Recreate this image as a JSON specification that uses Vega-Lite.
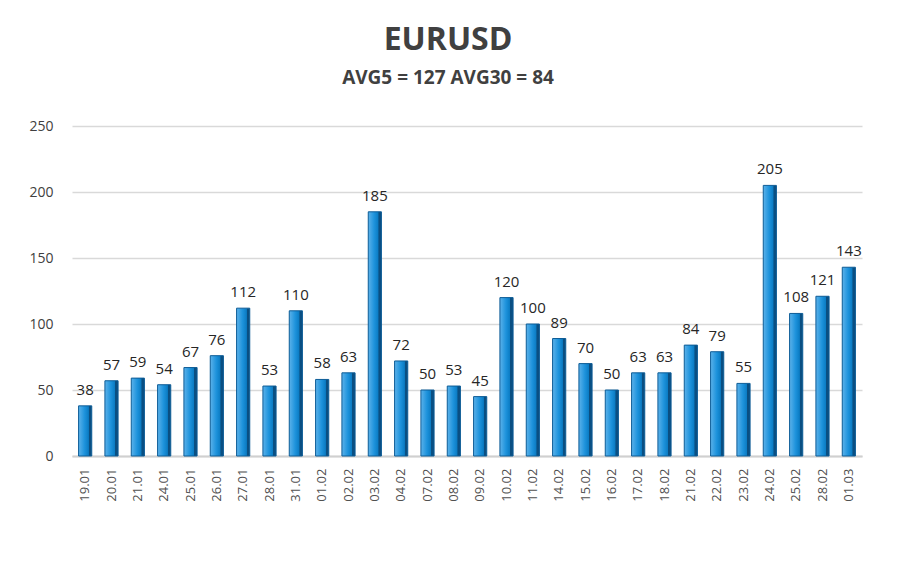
{
  "$schema": "https://vega.github.io/schema/vega-lite/v6.json",
  "autosize": "none",
  "width": 790,
  "height": 330,
  "padding": {"left": 72, "top": 126, "right": 38, "bottom": 114},
  "background": "white",
  "title": {
    "text": "EURUSD",
    "subtitle": "AVG5 = 127 AVG30 = 84",
    "anchor": "middle",
    "dx": -19,
    "font": "Open Sans",
    "fontSize": 32,
    "fontWeight": "bold",
    "color": "#404040",
    "subtitleFont": "Open Sans",
    "subtitleFontSize": 19,
    "subtitleFontWeight": "bold",
    "subtitleColor": "#404040",
    "subtitlePadding": 12,
    "offset": 30
  },
  "config": {
    "view": {"stroke": null},
    "font": "Open Sans"
  },
  "data": {
    "values": [
      {"date": "19.01", "pips": 38},
      {"date": "20.01", "pips": 57},
      {"date": "21.01", "pips": 59},
      {"date": "24.01", "pips": 54},
      {"date": "25.01", "pips": 67},
      {"date": "26.01", "pips": 76},
      {"date": "27.01", "pips": 112},
      {"date": "28.01", "pips": 53},
      {"date": "31.01", "pips": 110},
      {"date": "01.02", "pips": 58},
      {"date": "02.02", "pips": 63},
      {"date": "03.02", "pips": 185},
      {"date": "04.02", "pips": 72},
      {"date": "07.02", "pips": 50},
      {"date": "08.02", "pips": 53},
      {"date": "09.02", "pips": 45},
      {"date": "10.02", "pips": 120},
      {"date": "11.02", "pips": 100},
      {"date": "14.02", "pips": 89},
      {"date": "15.02", "pips": 70},
      {"date": "16.02", "pips": 50},
      {"date": "17.02", "pips": 63},
      {"date": "18.02", "pips": 63},
      {"date": "21.02", "pips": 84},
      {"date": "22.02", "pips": 79},
      {"date": "23.02", "pips": 55},
      {"date": "24.02", "pips": 205},
      {"date": "25.02", "pips": 108},
      {"date": "28.02", "pips": 121},
      {"date": "01.03", "pips": 143}
    ]
  },
  "encoding": {
    "x": {
      "field": "date",
      "type": "ordinal",
      "sort": null,
      "scale": {"paddingInner": 0.5, "paddingOuter": 0.25},
      "axis": {
        "title": null,
        "labelAngle": -90,
        "labelAlign": "right",
        "labelBaseline": "middle",
        "labelPadding": 12,
        "labelFontSize": 13,
        "labelColor": "#505050",
        "labelFont": "Open Sans",
        "ticks": false,
        "domain": true,
        "domainColor": "#d0d0d0",
        "domainWidth": 2
      }
    },
    "y": {
      "field": "pips",
      "type": "quantitative",
      "scale": {"domain": [0, 250]},
      "axis": {
        "title": null,
        "values": [0, 50, 100, 150, 200, 250],
        "labelFontSize": 14,
        "labelColor": "#404040",
        "labelFont": "Open Sans",
        "labelPadding": 19,
        "ticks": false,
        "domain": false,
        "grid": true,
        "gridColor": "#d9d9d9",
        "gridWidth": 1.5
      }
    }
  },
  "layer": [
    {
      "mark": {
        "type": "bar",
        "stroke": "#0d5c96",
        "strokeWidth": 1,
        "color": {
          "gradient": "linear",
          "x1": 0, "y1": 0, "x2": 1, "y2": 0,
          "stops": [
            {"offset": 0, "color": "#5cb2ea"},
            {"offset": 0.45, "color": "#1e93dc"},
            {"offset": 0.75, "color": "#0b7cc4"},
            {"offset": 0.8, "color": "#0a4f82"},
            {"offset": 1, "color": "#0a4f82"}
          ]
        }
      }
    },
    {
      "mark": {
        "type": "text",
        "baseline": "bottom",
        "dy": -8,
        "fontSize": 15,
        "font": "Open Sans",
        "color": "#262626"
      },
      "encoding": {
        "text": {"field": "pips", "type": "quantitative"}
      }
    }
  ]
}
